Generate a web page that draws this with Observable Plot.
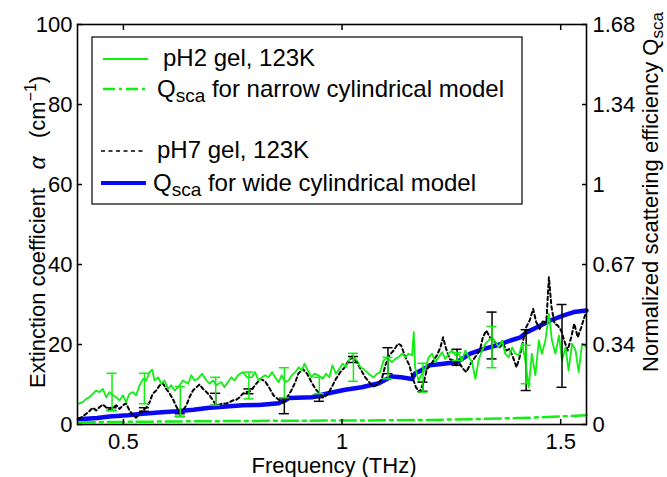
<!DOCTYPE html>
<html><head><meta charset="utf-8">
<script src="https://cdn.jsdelivr.net/npm/d3@7"></script>
<script src="https://cdn.jsdelivr.net/npm/@observablehq/plot@0.6"></script>
<style>body{margin:0;background:#fff;} svg{display:block}</style>
</head><body><div id="chart"></div>
<script>
// ---------- data (frequency THz, extinction coefficient cm^-1) ----------
const pH2 = [
[0.398,5.2],[0.407,5.6],[0.415,6.4],[0.422,6.8],[0.430,7.7],[0.438,8.5],[0.445,8.1],[0.453,8.9],[0.461,6.8],[0.468,8.1],[0.476,7.3],[0.484,6.8],[0.491,6.0],[0.499,7.3],[0.506,5.6],[0.514,7.7],[0.522,8.1],[0.529,7.3],[0.537,9.8],[0.545,11.4],[0.552,11.0],[0.560,13.1],[0.566,13.7],[0.571,11.0],[0.579,11.8],[0.587,10.2],[0.594,11.0],[0.602,8.9],[0.609,9.8],[0.617,8.5],[0.625,9.3],[0.636,11.0],[0.648,10.2],[0.655,12.3],[0.663,11.0],[0.670,11.4],[0.680,12.7],[0.690,11.0],[0.697,10.2],[0.705,11.0],[0.712,9.8],[0.724,10.6],[0.731,9.3],[0.739,10.6],[0.747,11.8],[0.754,11.0],[0.762,12.3],[0.773,13.1],[0.783,11.8],[0.794,11.8],[0.801,13.1],[0.809,11.0],[0.817,11.8],[0.824,12.3],[0.832,11.8],[0.840,13.1],[0.847,11.8],[0.855,10.6],[0.862,12.3],[0.870,10.6],[0.878,11.0],[0.885,12.3],[0.893,13.1],[0.901,14.3],[0.908,13.5],[0.914,15.2],[0.922,13.5],[0.930,11.8],[0.937,12.7],[0.946,12.3],[0.956,11.4],[0.963,12.7],[0.971,11.8],[0.978,14.8],[0.986,12.7],[0.994,13.9],[1.001,15.2],[1.009,14.3],[1.017,16.4],[1.024,17.3],[1.034,16.0],[1.042,14.3],[1.049,13.9],[1.057,13.1],[1.065,12.3],[1.072,11.8],[1.080,12.7],[1.087,13.1],[1.095,16.0],[1.103,16.8],[1.114,15.6],[1.122,16.4],[1.129,16.8],[1.137,17.7],[1.145,16.8],[1.152,17.7],[1.160,17.3],[1.164,23.1],[1.167,14.3],[1.175,11.0],[1.183,12.7],[1.190,13.9],[1.198,16.8],[1.206,17.7],[1.213,15.6],[1.221,16.8],[1.229,18.1],[1.236,16.4],[1.244,17.7],[1.251,18.5],[1.259,17.3],[1.267,17.7],[1.274,16.0],[1.282,18.5],[1.290,16.8],[1.297,15.6],[1.305,11.4],[1.312,16.0],[1.320,18.5],[1.328,20.2],[1.335,21.0],[1.343,21.8],[1.351,20.6],[1.358,19.3],[1.366,21.0],[1.373,17.7],[1.381,16.8],[1.389,19.3],[1.396,17.7],[1.404,17.3],[1.412,20.2],[1.419,16.0],[1.427,9.3],[1.434,17.7],[1.442,12.3],[1.450,21.0],[1.457,17.7],[1.465,21.0],[1.473,27.7],[1.480,21.0],[1.488,17.7],[1.496,22.3],[1.503,16.0],[1.511,19.3],[1.518,13.5],[1.526,20.2],[1.534,18.5],[1.541,13.1],[1.549,20.2],[1.557,19.5]
];
const pH7 = [
[0.398,1.4],[0.407,2.0],[0.415,2.7],[0.422,3.3],[0.430,4.2],[0.438,3.5],[0.445,4.3],[0.453,5.0],[0.461,4.2],[0.468,3.7],[0.476,4.2],[0.484,4.8],[0.491,3.9],[0.499,4.8],[0.506,5.3],[0.514,3.5],[0.522,2.3],[0.529,1.7],[0.537,2.7],[0.544,3.5],[0.552,4.2],[0.560,5.6],[0.567,7.7],[0.575,8.5],[0.583,9.8],[0.590,10.3],[0.598,8.9],[0.606,7.7],[0.613,6.4],[0.621,4.5],[0.628,3.1],[0.636,3.5],[0.644,4.8],[0.651,6.8],[0.659,8.5],[0.667,9.3],[0.674,10.0],[0.682,8.9],[0.690,8.1],[0.697,7.3],[0.705,6.0],[0.712,4.8],[0.720,5.0],[0.728,5.3],[0.735,5.2],[0.743,5.6],[0.750,6.0],[0.758,6.2],[0.766,6.8],[0.773,7.7],[0.781,8.1],[0.790,8.3],[0.801,9.8],[0.813,11.4],[0.824,10.8],[0.833,9.3],[0.843,7.3],[0.855,6.2],[0.864,5.6],[0.874,6.7],[0.884,8.5],[0.893,10.6],[0.900,12.7],[0.910,13.9],[0.920,12.7],[0.930,10.6],[0.939,8.9],[0.948,7.8],[0.958,6.7],[0.968,7.7],[0.977,9.5],[0.986,11.4],[0.996,13.1],[1.006,14.3],[1.015,16.0],[1.024,16.8],[1.034,15.6],[1.044,13.5],[1.053,11.8],[1.062,10.6],[1.072,9.5],[1.082,10.0],[1.091,11.4],[1.099,14.8],[1.108,17.3],[1.118,18.5],[1.128,20.2],[1.135,19.8],[1.145,16.8],[1.154,14.8],[1.161,11.8],[1.169,9.3],[1.177,8.1],[1.187,10.6],[1.194,13.9],[1.202,14.8],[1.209,16.0],[1.217,17.3],[1.225,19.3],[1.231,21.8],[1.238,18.9],[1.246,16.4],[1.254,16.0],[1.261,14.8],[1.269,15.2],[1.277,13.9],[1.284,13.1],[1.292,14.8],[1.299,16.0],[1.307,17.3],[1.315,18.5],[1.322,21.8],[1.330,23.5],[1.338,21.8],[1.345,21.0],[1.353,20.2],[1.360,19.3],[1.368,20.2],[1.376,18.5],[1.383,18.9],[1.391,16.8],[1.399,14.3],[1.406,16.8],[1.414,21.0],[1.421,24.3],[1.429,26.0],[1.437,28.9],[1.444,25.6],[1.452,23.9],[1.460,26.0],[1.467,25.2],[1.473,36.8],[1.479,29.3],[1.486,25.2],[1.493,24.8],[1.501,23.5],[1.508,21.0],[1.516,18.5],[1.524,21.8],[1.531,25.2],[1.539,21.8],[1.547,24.3],[1.554,26.8],[1.559,28.1]
];
const qWide = [
[0.398,1.3],[0.440,1.6],[0.468,2.0],[0.510,2.3],[0.544,2.7],[0.580,3.0],[0.621,3.3],[0.660,3.7],[0.697,4.2],[0.735,4.5],[0.773,4.8],[0.810,4.9],[0.855,5.3],[0.870,6.0],[0.878,6.6],[0.931,6.8],[0.969,7.8],[1.007,8.7],[1.045,9.3],[1.084,10.3],[1.099,11.2],[1.114,12.0],[1.135,11.8],[1.160,11.4],[1.167,12.8],[1.179,13.4],[1.200,14.8],[1.232,15.2],[1.263,15.6],[1.293,17.7],[1.324,18.9],[1.354,19.8],[1.385,21.0],[1.408,21.8],[1.423,23.1],[1.446,24.3],[1.476,26.0],[1.507,27.3],[1.530,28.1],[1.559,28.5]
];
const qNarrow = [
[0.398,0.55],[0.500,0.65],[0.600,0.75],[0.800,0.9],[1.000,1.0],[1.100,1.05],[1.200,1.15],[1.300,1.35],[1.400,1.6],[1.500,2.0],[1.559,2.3]
];
// error bars: [frequency, low, high]
const errPH2 = [
[0.474,3.5,12.8],[0.548,5.2,12.8],[0.630,2.0,9.5],[0.711,4.8,11.8],[0.787,6.4,13.1],[0.868,6.7,14.2],[0.948,7.7,11.8],[1.026,10.8,17.8],[1.105,11.4,16.8],[1.185,8.1,15.3],[1.263,16.0,18.0],[1.343,14.2,24.5],[1.421,10.2,19.8]
];
const errPH7 = [
[0.474,3.5,4.2],[0.548,3.3,4.2],[0.630,2.0,2.7],[0.711,4.8,7.8],[0.787,7.7,8.9],[0.868,2.7,6.4],[0.948,5.8,6.7],[1.026,15.5,17.0],[1.105,12.7,19.2],[1.185,8.3,10.6],[1.263,14.8,18.8],[1.343,16.4,28.1],[1.421,8.5,23.7],[1.503,9.3,30.0]
];
const xTicks = [0.5, 1, 1.5];
const xTickLabels = ["0.5", "1", "1.5"];
const yTicks = [0, 20, 40, 60, 80, 100];
const yTickLabels = ["0", "20", "40", "60", "80", "100"];
const qTickLabels = ["0", "0.34", "0.67", "1", "1.34", "1.68"];
const legendLabels = ["pH2 gel, 123K", "for narrow cylindrical model", "pH7 gel, 123K", "for wide cylindrical model"];

// ---------- styles ----------
const FONT = "'Liberation Sans', Arial, Helvetica, sans-serif";
const GREEN = "#11ee11", BLUE = "#0808f4", BLACK = "#000";
const CAP = 0.0115; // half-width of error bar caps (THz)

const chart = Plot.plot({
  width: 667, height: 477,
  marginLeft: 77, marginRight: 81, marginTop: 24, marginBottom: 53,
  style: {fontFamily: FONT, fontSize: "22px", background: "white", color: "black"},
  x: {domain: [0.395, 1.559]},
  y: {domain: [0, 100]},
  marks: [
    Plot.line(qWide, {x: d => d[0], y: d => d[1], stroke: BLUE, strokeWidth: 4.5, strokeLinejoin: "round"}),
    Plot.line(pH7, {x: d => d[0], y: d => d[1], stroke: BLACK, strokeWidth: 2, strokeDasharray: "3.5,3"}),
    Plot.line(pH2, {x: d => d[0], y: d => d[1], stroke: GREEN, strokeWidth: 1.8}),
    Plot.line(qNarrow, {x: d => d[0], y: d => d[1], stroke: GREEN, strokeWidth: 2.5, strokeDasharray: "16,5,3,5"}),
    Plot.ruleX(errPH7, {x: d => d[0], y1: d => d[1], y2: d => d[2], stroke: BLACK, strokeWidth: 1.5}),
    Plot.ruleY(errPH7, {y: d => d[1], x1: d => d[0] - CAP, x2: d => d[0] + CAP, stroke: BLACK, strokeWidth: 1.5}),
    Plot.ruleY(errPH7, {y: d => d[2], x1: d => d[0] - CAP, x2: d => d[0] + CAP, stroke: BLACK, strokeWidth: 1.5}),
    Plot.ruleX(errPH2, {x: d => d[0], y1: d => d[1], y2: d => d[2], stroke: GREEN, strokeWidth: 1.5}),
    Plot.ruleY(errPH2, {y: d => d[1], x1: d => d[0] - CAP, x2: d => d[0] + CAP, stroke: GREEN, strokeWidth: 1.5}),
    Plot.ruleY(errPH2, {y: d => d[2], x1: d => d[0] - CAP, x2: d => d[0] + CAP, stroke: GREEN, strokeWidth: 1.5}),
    Plot.axisX({anchor: "bottom", ticks: xTicks, tickSize: -5, tickPadding: 14, fontSize: 22, strokeWidth: 1.5,
      tickFormat: d => xTickLabels[xTicks.indexOf(d)], label: null}),
    Plot.axisX({anchor: "top", ticks: xTicks, tickSize: -5, strokeWidth: 1.5, tickFormat: () => "", label: null}),
    Plot.axisY({anchor: "left", ticks: yTicks, tickSize: -5, tickPadding: 10, fontSize: 22, strokeWidth: 1.5,
      tickFormat: d => yTickLabels[yTicks.indexOf(d)], label: null}),
    Plot.axisY({anchor: "right", ticks: yTicks, tickSize: -5, tickPadding: 11, fontSize: 22, strokeWidth: 1.5,
      tickFormat: d => qTickLabels[yTicks.indexOf(d)], label: null}),
    Plot.frame({stroke: BLACK, strokeWidth: 1.6})
  ]
});
document.getElementById("chart").appendChild(chart);

// ---------- axis titles and legend ----------
const svg = d3.select(chart);
const ann = svg.append("g").attr("font-family", FONT).attr("fill", "black");

ann.append("text").attr("x", 334).attr("y", 473).attr("text-anchor", "middle").attr("font-size", 22)
  .text("Frequency (THz)");

const yl = ann.append("text").attr("transform", "translate(45,388) rotate(-90)")
  .attr("text-anchor", "start").attr("font-size", 22).style("white-space", "pre");
yl.append("tspan").text("Extinction coefficient   ");
yl.append("tspan").attr("font-style", "italic").attr("font-size", 23).text("α");
yl.append("tspan").text("   (cm");
yl.append("tspan").attr("font-size", 16).attr("dy", -9).text("−1");
yl.append("tspan").attr("dy", 9).text(")");

const yr = ann.append("text").attr("transform", "translate(658,192) rotate(-90)")
  .attr("text-anchor", "middle").attr("font-size", 22);
yr.append("tspan").text("Normalized scattering efficiency Q");
yr.append("tspan").attr("font-size", 17).attr("dy", 5).text("sca");

const lg = ann.append("g").attr("font-size", 24).attr("text-anchor", "start");
lg.append("rect").attr("x", 92).attr("y", 37).attr("width", 430).attr("height", 167)
  .attr("fill", "white").attr("stroke", "black").attr("stroke-width", 1.2);
const entries = [
  {y: 59, ty: 66, tx: 163, stroke: GREEN, w: 1.8, dash: null, q: false, x1: 103, x2: 148},
  {y: 89, ty: 97, tx: 157, stroke: GREEN, w: 2.5, dash: "12,4,3,4", q: true, x1: 103, x2: 148},
  {y: 151, ty: 158, tx: 157, stroke: BLACK, w: 1.5, dash: "4,3.5", q: false, x1: 101, x2: 145},
  {y: 183, ty: 191, tx: 153, stroke: BLUE, w: 4, dash: null, q: true, x1: 101, x2: 146}
];
entries.forEach((e, i) => {
  const ln = lg.append("line").attr("x1", e.x1).attr("x2", e.x2).attr("y1", e.y).attr("y2", e.y)
    .attr("stroke", e.stroke).attr("stroke-width", e.w);
  if (e.dash) ln.attr("stroke-dasharray", e.dash);
  const t = lg.append("text").attr("x", e.tx).attr("y", e.ty).attr("text-anchor", "start").style("white-space", "pre");
  if (e.q) {
    t.append("tspan").text("Q");
    t.append("tspan").attr("font-size", 19).attr("dy", 5).text("sca");
    t.append("tspan").attr("dy", -5).text(" " + legendLabels[i]);
  } else {
    t.text(legendLabels[i]);
  }
});
</script>
</body></html>
